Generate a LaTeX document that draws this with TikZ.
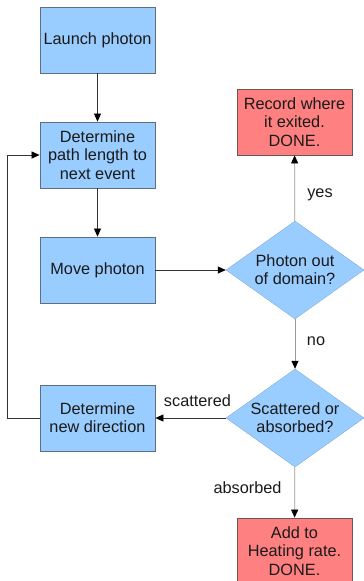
\documentclass[tikz,border=0pt]{standalone}
\usepackage{fontspec}
\setmainfont{Liberation Sans}
\usetikzlibrary{shapes.geometric,arrows.meta}
\definecolor{boxblue}{HTML}{99CCFF}
\definecolor{boxred}{HTML}{FF8080}
\definecolor{edgeblue}{HTML}{5E6E80}
\definecolor{edgered}{HTML}{6B5656}
\definecolor{darkline}{HTML}{333333}
\definecolor{lightline}{HTML}{999999}
\definecolor{inktext}{HTML}{1A1A1A}
\begin{document}
\begin{tikzpicture}[x=1pt,y=-1pt,
  font=\fontsize{16.3}{18.3}\selectfont, text=inktext,
  process/.style={rectangle, draw=edgeblue, fill=boxblue, line width=0.8pt,
    minimum width=115pt, minimum height=66pt, align=center, inner sep=0pt},
  final/.style={process, draw=edgered, fill=boxred},
  decision/.style={diamond, draw=boxblue!85!black, fill=boxblue, line width=0.4pt,
    shape aspect=1.41, minimum width=138pt, minimum height=98pt,
    align=center, inner sep=0pt},
  flow/.style={draw=darkline, line width=0.7pt,
    -{Triangle[length=8pt,width=7pt,color=black]}},
  branch/.style={flow, draw=lightline},
  lbl/.style={inner sep=0pt}]
\useasboundingbox (0,0) rectangle (364,581);

% process boxes
\node[process] (launch) at (97.5,40)  {Launch photon};
\node[process] (path)   at (97.5,155) {Determine\\path length to\\next event};
\node[process] (move)   at (97.5,270) {Move photon};
\node[process] (newdir) at (97.5,418) {Determine\\new direction};

% decisions
\node[decision] (out)   at (295,270) {Photon out\\of domain?};
\node[decision] (kind)  at (295,418) {Scattered or\\absorbed?};

% end states
\node[final] (record) at (294.5,122) {Record where\\it exited.\\DONE.};
\node[final] (heat)   at (294.5,551) {Add to\\Heating rate.\\DONE.};

% branch labels
\node[lbl] (yes)  at (320,195)   {yes};
\node[lbl] (no)   at (316,341)   {no};
\node[lbl] (scat) at (197.5,401) {scattered};
\node[lbl] (abs)  at (247.5,488) {absorbed};

% connectors
\draw[flow] (launch) -- (path);
\draw[flow] (path) -- (move);
\draw[flow] (move) -- (out);
\draw[branch] (out) -- (record);
\draw[branch] (out) -- (kind);
\draw[flow] (kind) -- (newdir);
\draw[branch] (kind) -- (heat);
\coordinate (loopbot) at (7,418);
\coordinate (looptop) at (7,155);
\draw[flow] (newdir.west) -- (loopbot) -- (looptop) -- (path.west);
\end{tikzpicture}
\end{document}
